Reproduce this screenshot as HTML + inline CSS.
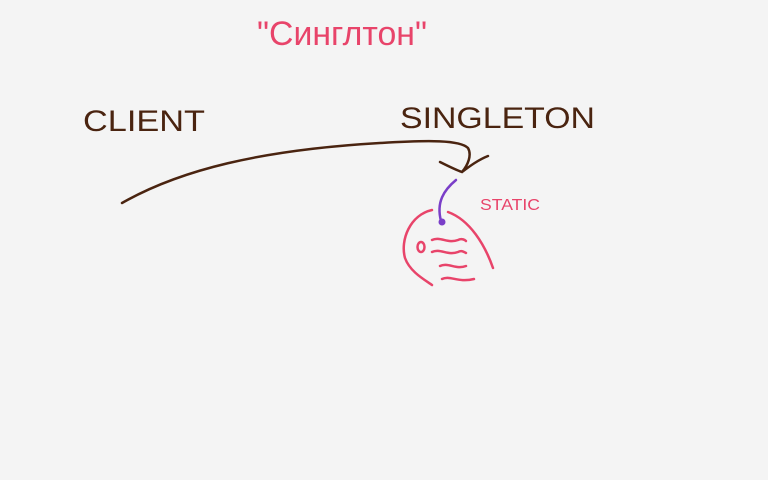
<!DOCTYPE html>
<html><head><meta charset="utf-8"><style>
html,body{margin:0;padding:0;background:#f4f4f4;}
svg{display:block}
</style></head><body>
<svg width="768" height="480" viewBox="0 0 768 480">
<rect width="768" height="480" fill="#f4f4f4"/>
<text x="342" y="45" text-anchor="middle" font-family="'Liberation Sans','Noto Sans CJK SC',sans-serif" font-size="34" fill="#e8446a" textLength="170" lengthAdjust="spacingAndGlyphs">"Синглтон"</text>
<text x="83" y="131" font-family="'Liberation Sans',sans-serif" font-size="30" fill="#4a2410" textLength="122" lengthAdjust="spacingAndGlyphs">CLIENT</text>
<text x="400" y="128" font-family="'Liberation Sans',sans-serif" font-size="30" fill="#4a2410" textLength="195" lengthAdjust="spacingAndGlyphs">SINGLETON</text>
<path d="M122 203 C180 170 260 150 380 143 C430 140 460 140 468 148 C472 155 468 165 462 172 M440 162 C448 166 456 170 462 172 C470 166 478 160 488 156" fill="none" stroke="#4a2410" stroke-width="2.5" stroke-linecap="round"/>
<path d="M456 180 C444 190 436 202 441 221" fill="none" stroke="#7a3ec8" stroke-width="2.5" stroke-linecap="round"/>
<circle cx="442" cy="222" r="3.5" fill="#7a3ec8"/>
<text x="480" y="210" font-family="'Liberation Sans',sans-serif" font-size="16" fill="#e8446a" textLength="60" lengthAdjust="spacingAndGlyphs">STATIC</text>
<g fill="none" stroke="#e8446a" stroke-width="2.5" stroke-linecap="round">
<path d="M432 210 C410 215 400 240 405 258 C410 272 425 280 432 285 M448 212 C470 220 485 245 493 268"/>
<ellipse cx="421" cy="247" rx="3.5" ry="5"/>
<path d="M432 240 C440 236 448 244 458 240 C462 238 465 240 466 241"/>
<path d="M432 252 C440 248 448 256 458 252 C462 250 464 252 466 253"/>
<path d="M440 266 C448 262 456 270 466 266"/>
<path d="M442 279 C450 275 458 283 474 279"/>
</g>
</svg>
</body></html>
